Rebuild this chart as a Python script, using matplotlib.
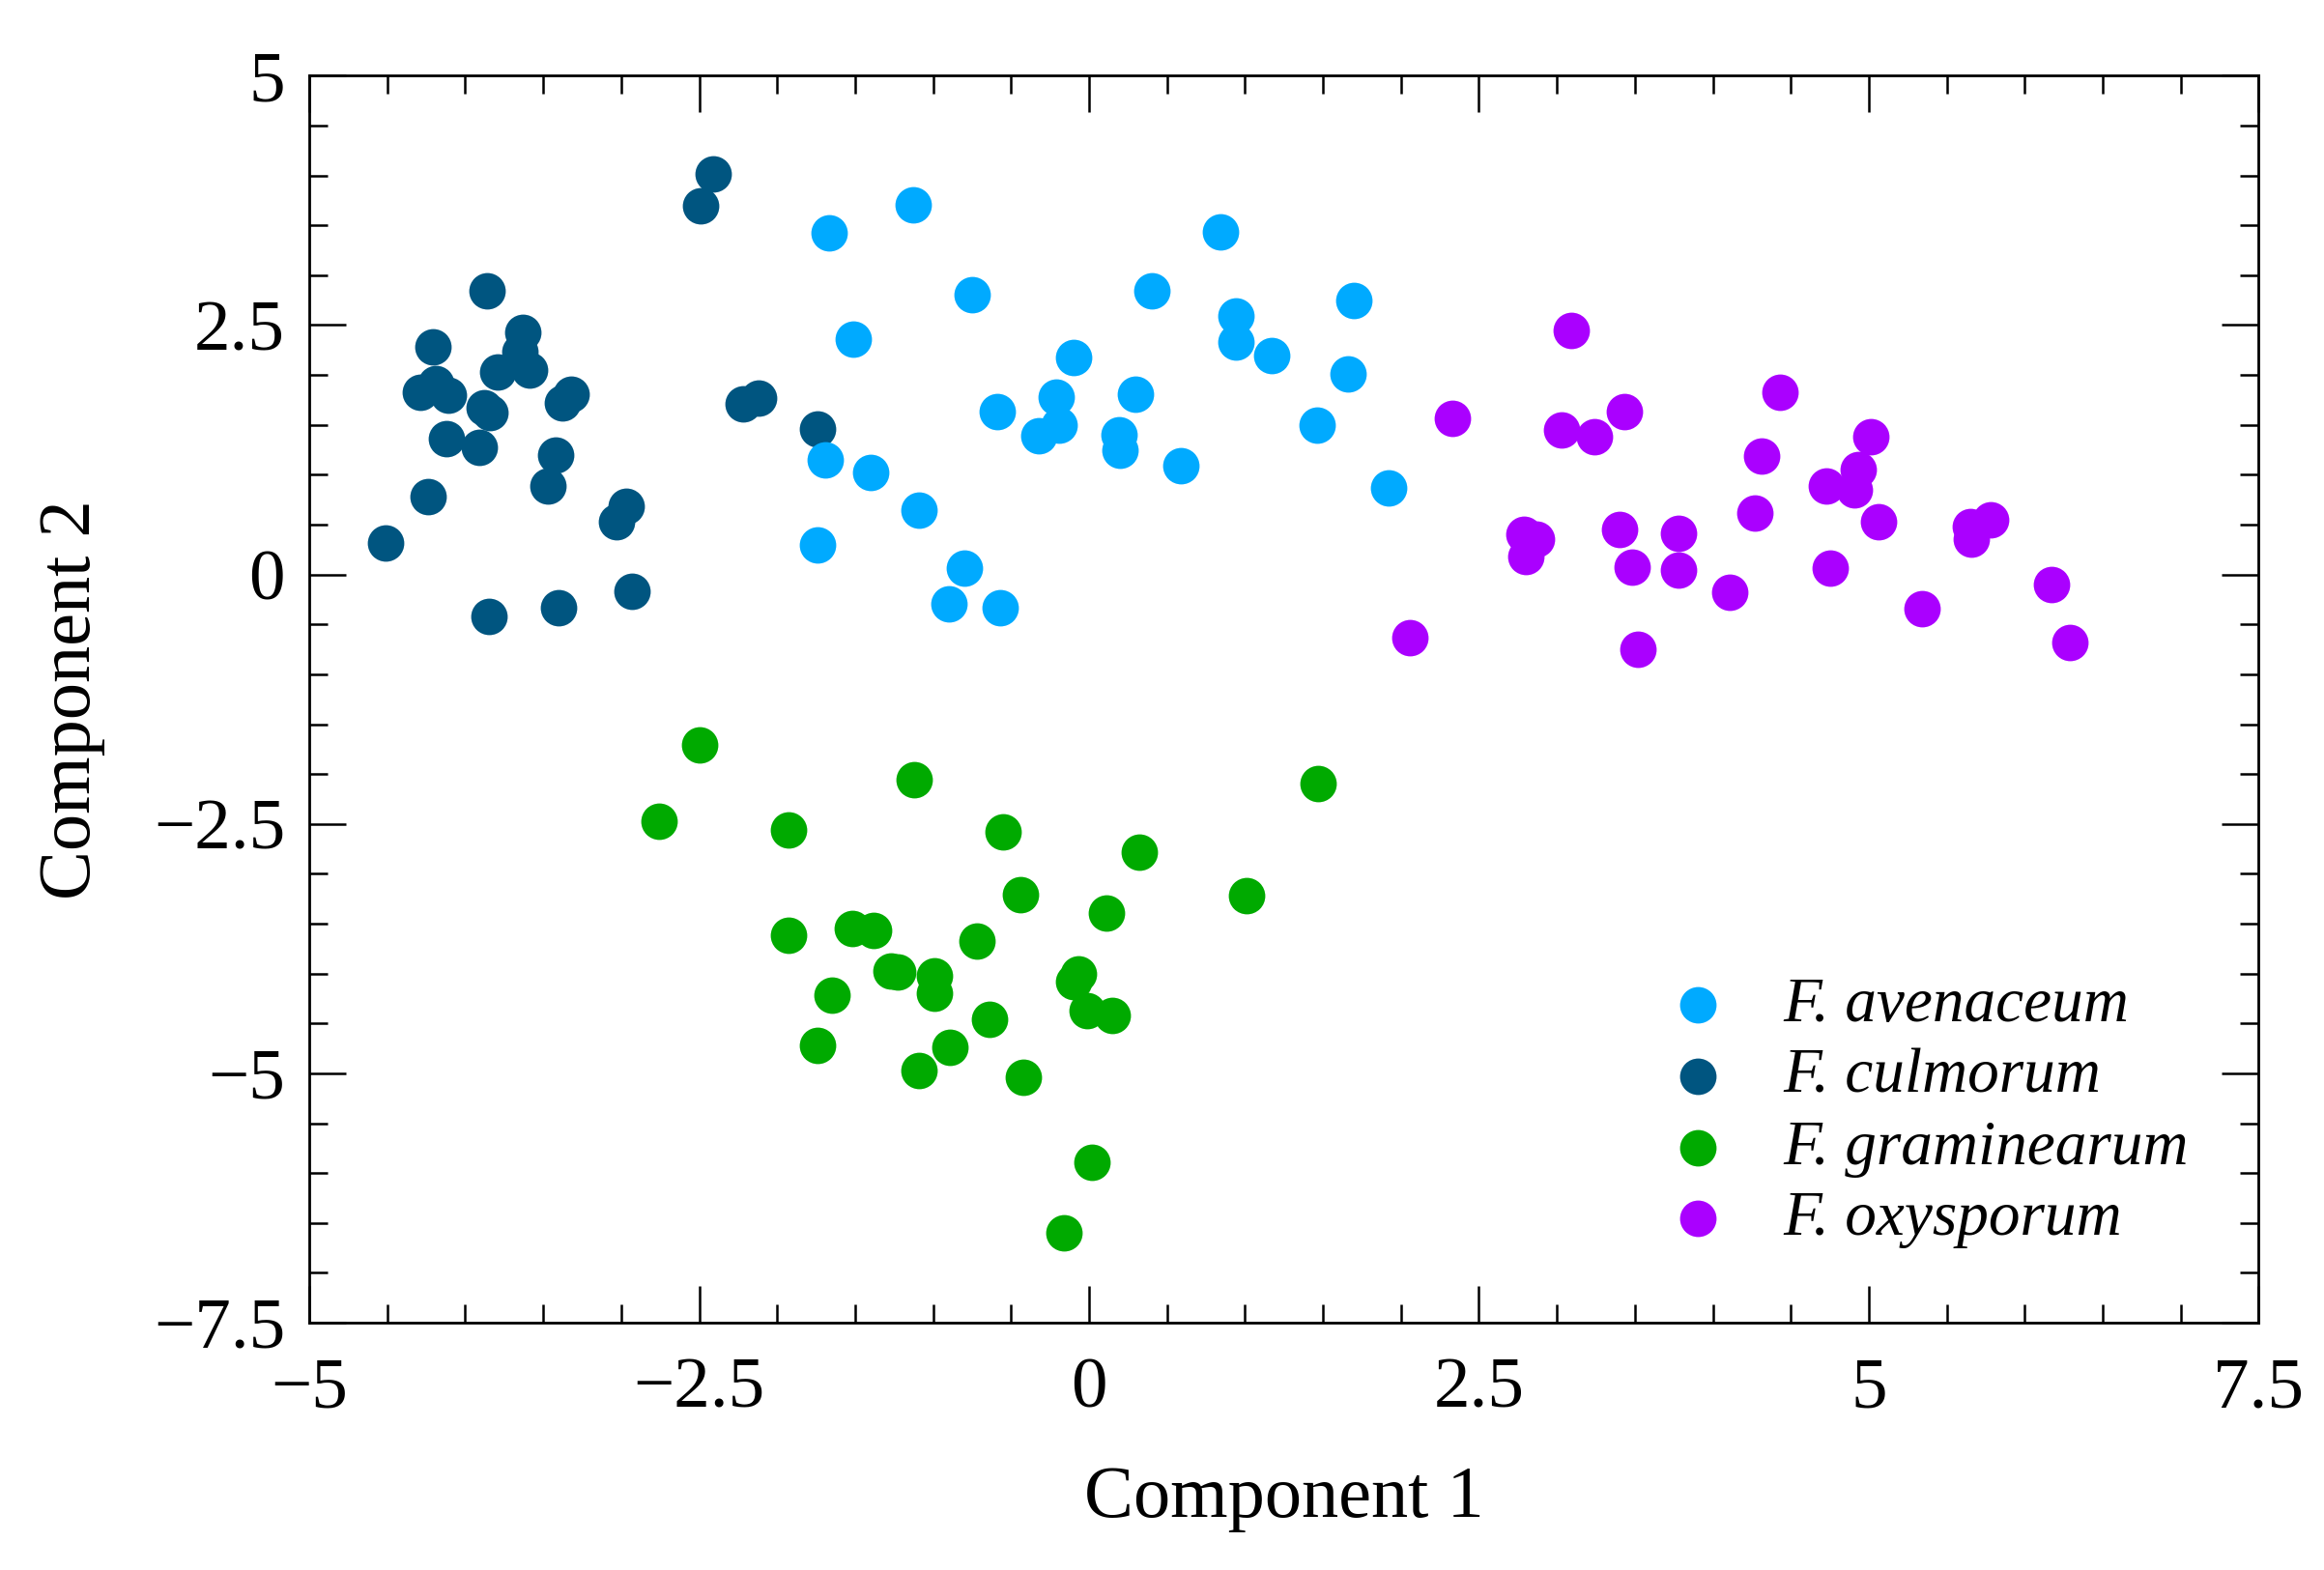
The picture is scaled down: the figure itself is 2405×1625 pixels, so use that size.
import matplotlib
matplotlib.use('Agg')
import matplotlib.pyplot as plt
from matplotlib.ticker import MultipleLocator, FuncFormatter

plt.rcParams['font.family'] = ['Liberation Serif', 'DejaVu Serif']

# Species names and colours (legend order)
species = ['F. avenaceum', 'F. culmorum', 'F. graminearum', 'F. oxysporum']
colors = ['#00AAFF', '#005580', '#00AA00', '#AA00FF']

# Component scores
avenaceum_x = [-1.13, -1.67, -0.75, -1.51, -0.59, -1.69, -1.40, -1.09, -1.74, -0.80,
               -0.90, -0.57, 0.84, 0.40, 0.94, 0.94, 1.17, 1.70, 1.66, -0.10,
               -0.21, -0.19, -0.32, 0.30, 0.19, 0.20, 0.59, 1.46, 1.92]
avenaceum_y = [3.71, 3.42, 2.80, 2.36, 1.63, 1.15, 1.02, 0.65, 0.30, 0.06,
               -0.29, -0.33, 3.43, 2.84, 2.59, 2.33, 2.19, 2.75, 2.01, 2.18,
               1.78, 1.50, 1.39, 1.81, 1.40, 1.25, 1.09, 1.50, 0.87]

culmorum_x = [-2.41, -2.49, -3.86, -3.63, -4.21, -3.65, -3.59, -3.79, -4.29, -4.19,
              -4.11, -3.88, -3.84, -3.32, -3.38, -4.12, -3.91, -3.42, -3.47, -4.24,
              -2.97, -3.03, -4.51, -3.85, -3.40, -2.93, -2.22, -2.12, -1.74]
culmorum_y = [4.02, 3.70, 2.84, 2.43, 2.28, 2.23, 2.05, 2.03, 1.83, 1.91,
              1.80, 1.67, 1.62, 1.81, 1.72, 1.36, 1.27, 1.20, 0.89, 0.78,
              0.68, 0.53, 0.32, -0.42, -0.33, -0.17, 1.71, 1.77, 1.46]

graminearum_x = [-2.50, -2.76, -1.93, -1.12, -0.55, 1.47, 0.32, -0.44, 0.11, 1.01,
                 -1.93, -1.52, -1.38, -0.72, -1.27, -1.23, -0.99, -0.99, -1.65, -0.07,
                 -0.10, -0.01, 0.15, -0.64, -1.74, -0.89, -1.09, -0.42, 0.02, -0.16]
graminearum_y = [-1.71, -2.47, -2.56, -2.06, -2.58, -2.10, -2.78, -3.21, -3.39, -3.22,
                 -3.62, -3.55, -3.57, -3.67, -3.97, -3.98, -4.02, -4.20, -4.22, -4.00,
                 -4.08, -4.37, -4.42, -4.46, -4.72, -4.74, -4.97, -5.04, -5.89, -6.60]

oxysporum_x = [3.09, 2.33, 3.03, 3.24, 3.43, 4.43, 4.31, 5.01, 4.93, 4.73,
               4.91, 4.27, 5.06, 5.78, 5.65, 5.66, 2.79, 2.87, 2.80, 3.40,
               3.78, 3.48, 3.78, 4.75, 4.11, 5.34, 6.17, 6.29, 2.06, 3.52]
oxysporum_y = [2.45, 1.57, 1.45, 1.38, 1.63, 1.83, 1.19, 1.38, 1.05, 0.89,
               0.85, 0.62, 0.53, 0.55, 0.48, 0.35, 0.40, 0.35, 0.18, 0.45,
               0.41, 0.07, 0.04, 0.06, -0.18, -0.34, -0.10, -0.68, -0.63, -0.75]

xs = [avenaceum_x, culmorum_x, graminearum_x, oxysporum_x]
ys = [avenaceum_y, culmorum_y, graminearum_y, oxysporum_y]
zorders = [3, 2, 3, 3]

fig = plt.figure(figsize=(12.025, 8.125), dpi=200)
ax = fig.add_axes([0.1331, 0.1575, 0.8388, 0.7943])

for x, y, c, name, z in zip(xs, ys, colors, species, zorders):
    ax.scatter(x, y, s=185, color=c, linewidths=0, label=name, zorder=z)

ax.set_xlim(-5, 7.5)
ax.set_ylim(-7.5, 5)
ax.xaxis.set_major_locator(MultipleLocator(2.5))
ax.xaxis.set_minor_locator(MultipleLocator(0.5))
ax.yaxis.set_major_locator(MultipleLocator(2.5))
ax.yaxis.set_minor_locator(MultipleLocator(0.5))
fmt = FuncFormatter(lambda v, p: ('%g' % v).replace('-', '\u2212'))
ax.xaxis.set_major_formatter(fmt)
ax.yaxis.set_major_formatter(fmt)

ax.tick_params(which='both', direction='in', top=True, right=True,
               labelsize=27, width=0.9, color='black')
ax.tick_params(axis='x', which='both', pad=13)
ax.tick_params(axis='y', which='both', pad=9)
ax.tick_params(which='major', length=13.7)
ax.tick_params(which='minor', length=6.8)
for sp in ax.spines.values():
    sp.set_linewidth(1.0)

ax.set_xlabel('Component 1', fontsize=27.5, labelpad=16)
ax.set_ylabel('Component 2', fontsize=27.5, labelpad=18)

leg = ax.legend(loc='upper left', bbox_to_anchor=(0.696, 0.277), frameon=False,
                prop={'style': 'italic', 'size': 23.5},
                handlelength=1.0, handletextpad=0.85, labelspacing=0.215,
                borderpad=0, borderaxespad=0, scatterpoints=1)

fig.savefig('out.png', dpi=200)
